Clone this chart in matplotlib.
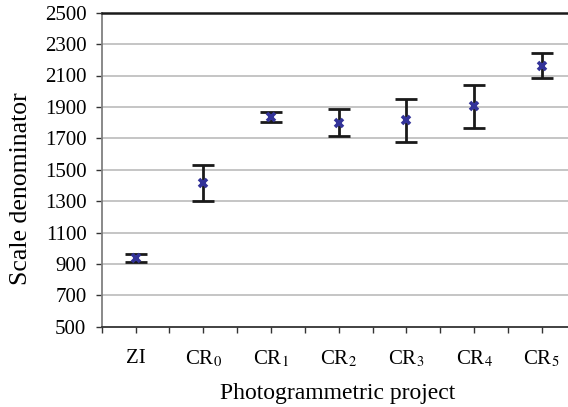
import numpy as np
import matplotlib.pyplot as plt

plt.rcParams["font.family"] = ["Liberation Serif", "DejaVu Serif"]
plt.rcParams["mathtext.fontset"] = "stix"

# data
projects = ["ZI", "CR$_0$", "CR$_1$", "CR$_2$", "CR$_3$", "CR$_4$", "CR$_5$"]
mean_val = [937, 1418, 1834, 1800, 1815, 1904, 2163]
upper_val = [960, 1533, 1870, 1887, 1951, 2038, 2241]
lower_val = [915, 1302, 1803, 1715, 1675, 1768, 2087]
yticks = list(range(500, 2501, 200))

fig = plt.figure(figsize=(5.68, 4.07), dpi=100)
# axes run a bit past the right edge, like the cropped original
ax = fig.add_axes([101.7 / 568, 1 - 326.7 / 407, 473.9 / 568, 314.0 / 407])

x = np.arange(len(projects))
mean_arr = np.array(mean_val)
yerr = [mean_arr - np.array(lower_val), np.array(upper_val) - mean_arr]

# grid
for v in yticks[1:-1]:
    ax.axhline(v, color="#c0c0c0", lw=1.3, zorder=0)

ax.errorbar(x, mean_val, yerr=yerr, fmt="none", ecolor="#1a1a1a",
            elinewidth=2, capsize=8, capthick=2, zorder=2)
ax.plot(x, mean_val, ls="none", marker="x", ms=6, mew=2.6,
        color="#333399", zorder=3)

ax.set_xlim(-0.5, len(projects) - 0.5)
ax.set_ylim(500, 2500)
ax.set_yticks(yticks)
ax.set_xticks(x)
ax.set_xticklabels(projects)
ax.set_xticks(np.arange(-0.5, len(projects), 1.0), minor=True)

ax.tick_params(axis="both", which="both", direction="out", length=4,
               width=1, color="#333333", labelsize=15)
ax.tick_params(axis="x", which="major", pad=12)
ax.tick_params(axis="y", pad=7)

ax.spines["left"].set_color("#808080")
ax.spines["left"].set_linewidth(1.3)
ax.spines["bottom"].set_color("#333333")
ax.spines["bottom"].set_linewidth(1.3)
ax.spines["top"].set_color("#1a1a1a")
ax.spines["top"].set_linewidth(1.8)
ax.spines["right"].set_visible(False)

fig.text(21 / 568, 1 - 189 / 407, "Scale denominator", rotation=90,
         ha="center", va="center", fontsize=18.5)
fig.text(338 / 568, 1 - 393 / 407, "Photogrammetric project",
         ha="center", va="center", fontsize=17)

fig.savefig("out.png", dpi=100)
